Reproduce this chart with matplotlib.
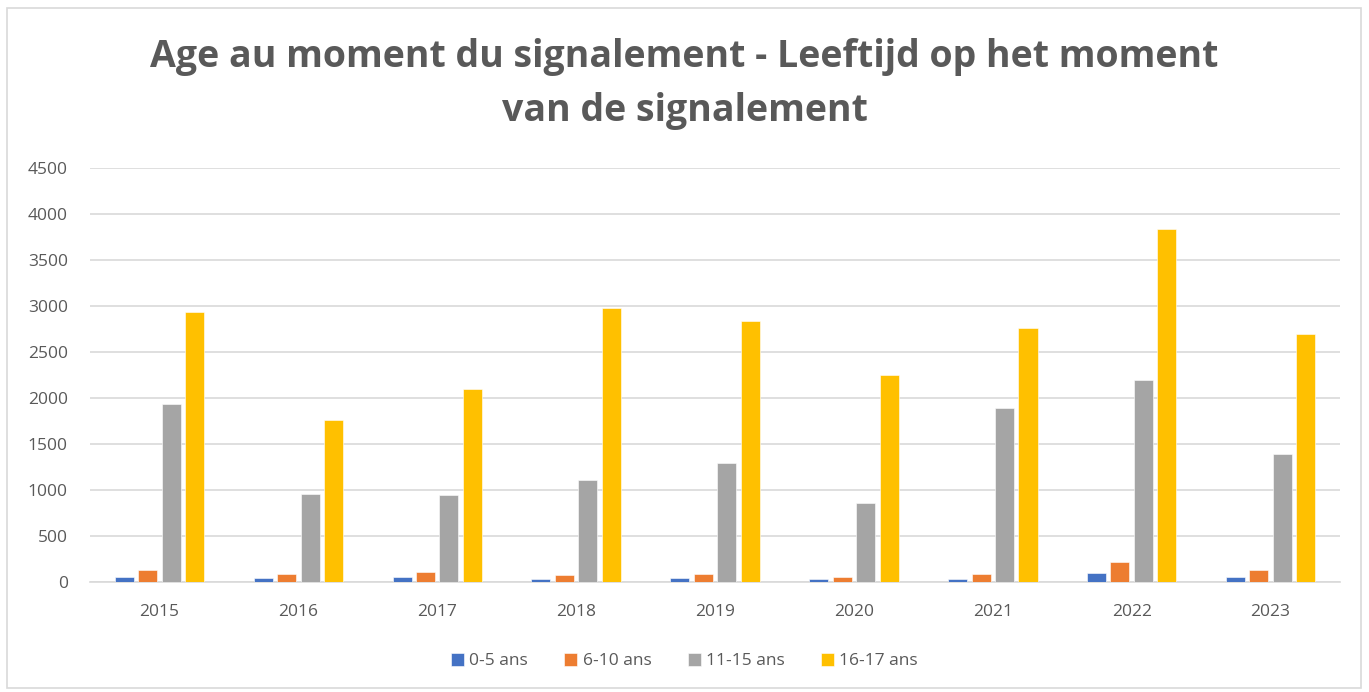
import matplotlib
matplotlib.use("Agg")
import matplotlib.pyplot as plt
import numpy as np
from matplotlib.patches import Rectangle

years = ["2015", "2016", "2017", "2018", "2019", "2020", "2021", "2022", "2023"]
series_names = ["0-5 ans", "6-10 ans", "11-15 ans", "16-17 ans"]
age_0_5 = [51, 47, 58, 36, 40, 38, 38, 94, 51]
age_6_10 = [130, 83, 109, 72, 83, 56, 83, 214, 127]
age_11_15 = [1931, 960, 949, 1105, 1290, 855, 1888, 2192, 1395]
age_16_17 = [2935, 1757, 2098, 2982, 2833, 2254, 2764, 3840, 2699]
colors = ["#4472C4", "#ED7D31", "#A5A5A5", "#FFC000"]

text_color = "#595959"
plt.rcParams['font.family'] = ['Open Sans', 'DejaVu Sans']

fig = plt.figure(figsize=(13.69, 6.92), dpi=100)
W, H = 1369, 692
ax = fig.add_axes([90 / W, 1 - 582 / H, (1340 - 90) / W, (582 - 168) / H])

x = np.arange(len(years))
pitch = 0.169
width = 0.137
data = [age_0_5, age_6_10, age_11_15, age_16_17]
for i, (vals, name, c) in enumerate(zip(data, series_names, colors)):
    offs = (i - 1.5) * pitch
    ax.bar(x + offs, vals, width=width, color=c, label=name, zorder=3,
           edgecolor="white", linewidth=0.4)

ax.set_xlim(-0.5, len(years) - 0.5)
ax.set_ylim(0, 4500)
ax.set_yticks(np.arange(0, 4501, 500))
ax.set_xticks(x)
ax.set_xticklabels(years)
ax.grid(axis="y", color="#D9D9D9", linewidth=1.2, zorder=0)
ax.set_axisbelow(True)
for s in ["top", "right", "left"]:
    ax.spines[s].set_visible(False)
ax.spines["bottom"].set_color("#D9D9D9")
ax.spines["bottom"].set_linewidth(1.2)
ax.tick_params(axis="both", length=0, colors=text_color, labelsize=12.5)
ax.tick_params(axis="y", pad=16)
ax.tick_params(axis="x", pad=16)

fig.text(0.5, 1 - 84 / H, "Age au moment du signalement - Leeftijd op het moment\nvan de signalement",
         ha="center", va="center", fontsize=27, fontweight="bold", color=text_color,
         linespacing=1.55)

leg = fig.legend(loc="center", bbox_to_anchor=(0.5, 1 - 661 / H), ncol=4, frameon=False,
                 fontsize=12.5, handlelength=0.75, handleheight=0.75, handletextpad=0.3,
                 columnspacing=2.1)
for t in leg.get_texts():
    t.set_color(text_color)

fig.patches.append(Rectangle((7 / W, 1 - 688 / H), (1361 - 7) / W, (688 - 8) / H,
                             transform=fig.transFigure, fill=False,
                             edgecolor="#D9D9D9", linewidth=1.2))

fig.savefig("out.png", dpi=100)
